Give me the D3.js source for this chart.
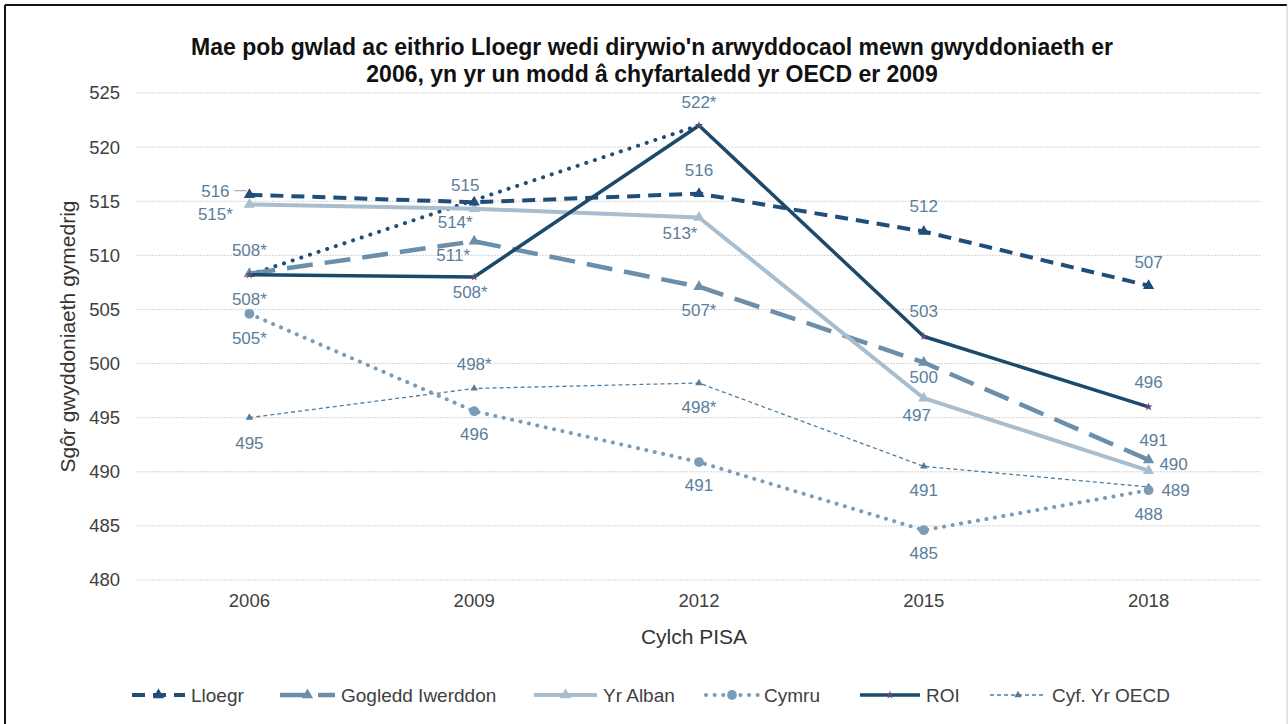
<!DOCTYPE html>
<html>
<head>
<meta charset="utf-8">
<script src="https://cdnjs.cloudflare.com/ajax/libs/d3/7.8.5/d3.min.js"></script>
<style>
  body { margin: 0; background: #fff; }
  svg { font-family: "Liberation Sans", Arial, sans-serif; }
</style>
</head>
<body>
<div id="chart-area"></div>
<script>
// data
var years = ["2006", "2009", "2012", "2015", "2018"];
var yTicks = [480, 485, 490, 495, 500, 505, 510, 515, 520, 525];

var lloegr = [515.6, 514.9, 515.7, 512.2, 507.2];
var gogledd = [508.3, 511.3, 507.1, 500.1, 491.1];
var alban = [514.7, 514.3, 513.5, 496.8, 490.1];
var cymru = [504.6, 495.6, 490.9, 484.6, 488.3];
var roi = [508.2, 508.0, 522.0, 502.5, 496.0];
var oecd = [495.0, 497.7, 498.2, 490.5, 488.6];

var lloegrLabels = ["516", "515", "516", "512", "507"];
var gogleddLabels = ["508*", "511*", "507*", "500", "491"];
var albanLabels = ["515*", "514*", "513*", "497", "490"];
var cymruLabels = ["505*", "496", "491", "485", "488"];
var roiLabels = ["508*", "508*", "522*", "503", "496"];
var oecdLabels = ["495", "498*", "498*", "491", "489"];

var width = 1288;
var height = 724;
var plot = {left: 137, right: 1261, top: 93, bottom: 580};

var svg = d3.select("#chart-area").append("svg")
	.attr("width", width)
	.attr("height", height);

// border
svg.append("line").attr("x1", 5).attr("y1", 5).attr("x2", 1287).attr("y2", 5)
	.attr("stroke", "#111").attr("stroke-width", 2);
svg.append("line").attr("x1", 5).attr("y1", 5).attr("x2", 5).attr("y2", 724)
	.attr("stroke", "#111").attr("stroke-width", 2);
svg.append("line").attr("x1", 1287).attr("y1", 5).attr("x2", 1287).attr("y2", 724)
	.attr("stroke", "#c8c8c8").attr("stroke-width", 1);

var x = d3.scaleBand()
	.domain(years)
	.range([plot.left, plot.right]);

var y = d3.scaleLinear()
	.domain([480, 525])
	.range([plot.bottom, plot.top]);

var cx = function(i) { return x(years[i]) + x.bandwidth() / 2; };

// gridlines
svg.append("g").selectAll("line")
	.data(yTicks)
	.enter().append("line")
		.attr("x1", plot.left)
		.attr("x2", plot.right)
		.attr("y1", d => y(d))
		.attr("y2", d => y(d))
		.attr("stroke", "#d4d4d4")
		.attr("stroke-width", 1)
		.attr("stroke-dasharray", "2,1");

// left axis (labels only)
var leftAxis = d3.axisLeft(y).tickValues(yTicks).tickSize(0).tickPadding(17);
var gy = svg.append("g")
	.attr("transform", "translate(" + plot.left + ",0)")
	.call(leftAxis);
gy.select(".domain").remove();
gy.selectAll("text").attr("font-size", "18.5px").attr("fill", "#404040")
	.style("font-family", "Liberation Sans, Arial, sans-serif");

// bottom axis (labels only)
var bottomAxis = d3.axisBottom(x).tickSize(0).tickPadding(14);
var gx = svg.append("g")
	.attr("transform", "translate(0," + plot.bottom + ")")
	.call(bottomAxis);
gx.select(".domain").remove();
gx.selectAll("text").attr("font-size", "18.5px").attr("fill", "#404040")
	.style("font-family", "Liberation Sans, Arial, sans-serif");

// titles
svg.append("text")
	.attr("x", 652).attr("y", 55)
	.attr("text-anchor", "middle")
	.attr("font-size", "23px").attr("font-weight", "bold").attr("fill", "#111")
	.text("Mae pob gwlad ac eithrio Lloegr wedi dirywio'n arwyddocaol  mewn gwyddoniaeth er");
svg.append("text")
	.attr("x", 652).attr("y", 82)
	.attr("text-anchor", "middle")
	.attr("font-size", "23px").attr("font-weight", "bold").attr("fill", "#111")
	.text("2006, yn yr un modd â chyfartaledd yr OECD er 2009");

svg.append("text")
	.attr("x", 694).attr("y", 637)
	.attr("dy", "0.35em")
	.attr("text-anchor", "middle")
	.attr("font-size", "21px").attr("fill", "#333")
	.text("Cylch PISA");

svg.append("text")
	.attr("transform", "translate(68," + ((plot.top + plot.bottom) / 2) + ") rotate(-90)")
	.attr("dy", "0.35em")
	.attr("text-anchor", "middle")
	.attr("font-size", "21px").attr("fill", "#333")
	.text("Sgôr gwyddoniaeth  gymedrig");

// series styles
var series = [
	{name: "Lloegr", values: lloegr, labels: lloegrLabels, color: "#1f4e79", width: 4, dash: "13,8", cap: "butt",
	 symbol: d3.symbolTriangle, size: 55,
	 offs: [[-34, -4], [-9, -17], [0, -24], [0, -25], [0, -24]]},
	{name: "Gogledd Iwerddon", values: gogledd, labels: gogleddLabels, color: "#6b8eaa", width: 4.5, dash: "26,12", cap: "butt",
	 symbol: d3.symbolTriangle, size: 55,
	 offs: [[0, 25], [-21, 14], [0, 23], [0, 15], [5, -20]]},
	{name: "Yr Alban", values: alban, labels: albanLabels, color: "#a8bece", width: 4, dash: null, cap: "butt",
	 symbol: d3.symbolTriangle, size: 55,
	 offs: [[-34, 10], [-19, 13], [-19, 16], [-7, 17], [25, -7]]},
	{name: "Cymru", values: cymru, labels: cymruLabels, color: "#7b9cb6", width: 4, dash: "0.1,8.5", cap: "round",
	 symbol: d3.symbolCircle, size: 75,
	 offs: [[0, 24], [0, 23], [0, 23], [0, 23], [0, 24]]},
	{name: "ROI", values: roi, labels: roiLabels, color: "#1b4a6d", width: 3.5, dash: null, cap: "butt",
	 symbol: d3.symbolStar, size: 22,
	 offs: [[0, -25], [-4, 15], [0, -23], [0, -25], [0, -25]]},
	{name: "Cyf. Yr OECD", values: oecd, labels: oecdLabels, color: "#4f7ea1", width: 1.3, dash: "4,3", cap: "butt",
	 symbol: d3.symbolTriangle, size: 24,
	 offs: [[0, 25], [0, -24], [0, 24], [0, 24], [27, 3]]}
];

var line = d3.line()
	.defined(d => d != null)
	.x((d, i) => cx(i))
	.y(d => y(d));

// ROI dotted link 2006 -> 2012, skipping 2009
var roiLink = [roi[0], roi[2]];
svg.append("path")
	.attr("d", d3.line().x((d, i) => cx(i * 2)).y(d => y(d))(roiLink))
	.attr("fill", "none")
	.attr("stroke", "#1f4e79")
	.attr("stroke-width", 4)
	.attr("stroke-linecap", "round")
	.attr("stroke-dasharray", "0.1,9");

var draw = [series[5], series[3], series[1], series[2], series[0], series[4]];

draw.forEach(s => {
	svg.append("path")
		.attr("d", line(s.values))
		.attr("fill", "none")
		.attr("stroke", s.color)
		.attr("stroke-width", s.width)
		.attr("stroke-linecap", s.cap)
		.attr("stroke-linejoin", "round")
		.attr("stroke-dasharray", s.dash);

	svg.append("g").selectAll("path")
		.data(s.values)
		.enter().append("path")
			.attr("d", d3.symbol().type(s.symbol).size(s.size))
			.attr("transform", (d, i) => "translate(" + cx(i) + "," + y(d) + ")")
			.attr("fill", s.name == "ROI" ? "#5d4a78" : s.color);
});

// data labels
series.forEach(s => {
	svg.append("g").selectAll("text")
		.data(s.values)
		.enter().append("text")
			.attr("x", (d, i) => cx(i) + s.offs[i][0])
			.attr("y", (d, i) => y(d) + s.offs[i][1])
			.attr("dy", "0.35em")
			.attr("text-anchor", "middle")
			.attr("font-size", "17px")
			.attr("fill", "#5a7e9b")
			.text((d, i) => s.labels[i]);
});

// leader line for 2006 Lloegr label
svg.append("line")
	.attr("x1", cx(0) - 15).attr("y1", y(lloegr[0]) - 4)
	.attr("x2", cx(0) - 3).attr("y2", y(lloegr[0]) - 4)
	.attr("stroke", "#999").attr("stroke-width", 1);

// legend
var legendX = [132, 280, 534, 706, 860, 990];
var legendLen = [53, 55, 63, 52, 60, 56];
var legend = svg.append("g").attr("transform", "translate(0,695)");
series.forEach((s, i) => {
	var lx = legendX[i];
	legend.append("line")
		.attr("x1", lx).attr("x2", lx + legendLen[i])
		.attr("y1", 0).attr("y2", 0)
		.attr("stroke", s.color)
		.attr("stroke-width", s.width)
		.attr("stroke-linecap", s.cap)
		.attr("stroke-dasharray", s.dash);
	legend.append("path")
		.attr("d", d3.symbol().type(s.symbol).size(s.size))
		.attr("transform", "translate(" + (lx + legendLen[i] / 2) + ",0)")
		.attr("fill", s.name == "ROI" ? "#5d4a78" : s.color);
	legend.append("text")
		.attr("x", lx + legendLen[i] + 6)
		.attr("y", 0)
		.attr("dy", "0.35em")
		.attr("font-size", "19px")
		.attr("fill", "#404040")
		.text(s.name);
});
</script>
</body>
</html>
